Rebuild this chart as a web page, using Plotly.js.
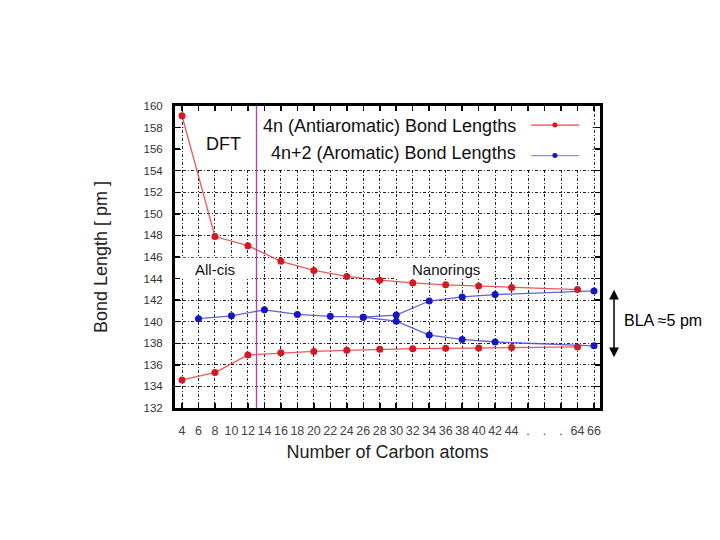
<!DOCTYPE html>
<html>
<head>
<meta charset="utf-8">
<script src="https://cdn.plot.ly/plotly-3.0.1.min.js"></script>
<style>html,body{margin:0;padding:0;background:#fff;}#chart{width:720px;height:540px;}</style>
</head>
<body>
<div id="chart"></div>
<script>
// x-axis categories (number of carbon atoms), with three gap markers
const xCategories = ['4','6','8','10','12','14','16','18','20','22','24','26','28','30','32','34','36','38','40','42','44','.','.\u200b','.\u200b\u200b','64','66'];

// 4n (antiaromatic) bond lengths: long and short bonds
const antiX = ['4','8','12','16','20','24','28','32','36','40','44','64'];
const antiLong  = [159.1, 147.9, 147.05, 145.6, 144.75, 144.2, 143.85, 143.6, 143.42, 143.3, 143.18, 142.98];
const antiShort = [134.6, 135.28, 136.92, 137.12, 137.25, 137.35, 137.44, 137.5, 137.53, 137.56, 137.6, 137.66];

// 4n+2 (aromatic) bond lengths: equalised up to 26, then splitting into long/short
const aroX1 = ['6','10','14','18','22','26','30','34','38','42','66'];
const aroY1 = [140.28, 140.55, 141.1, 140.68, 140.5, 140.42, 140.62, 141.92, 142.3, 142.52, 142.85];
const aroX2 = ['26','30','34','38','42','66'];
const aroY2 = [140.42, 140.05, 138.76, 138.36, 138.12, 137.76];

const legendLabels = ['4n (Antiaromatic) Bond Lengths', '4n+2 (Aromatic) Bond Lengths'];

const RED_M = 'rgb(214,24,34)', RED_L = 'rgba(228,60,66,0.85)';
const BLUE_M = 'rgb(22,22,196)', BLUE_L = 'rgba(70,70,205,0.85)';
const FONT = 'Liberation Sans, Arial, Helvetica, sans-serif';

function tr(x, y, lc, mc, name) {
  return {x: x, y: y, type: 'scatter', mode: 'lines+markers', name: name,
    legendgroup: name, showlegend: false,
    line: {color: lc, width: 1.3}, marker: {color: mc, size: 7}};
}

const data = [
  tr(antiX, antiLong, RED_L, RED_M, legendLabels[0]),
  tr(antiX, antiShort, RED_L, RED_M, legendLabels[0]),
  tr(aroX1, aroY1, BLUE_L, BLUE_M, legendLabels[1]),
  tr(aroX2, aroY2, BLUE_L, BLUE_M, legendLabels[1])
];

const shapes = [
  // opaque key box
  {type:'rect', xref:'x', yref:'y', x0:0.08, x1:24.92, y0:154.1, y1:160, fillcolor:'#fff', line:{width:0}, layer:'between'},
  // label boxes
  {type:'rect', xref:'x', yref:'y', x0:-0.425, x1:4.2, y0:143.97, y1:145.92, fillcolor:'#fff', line:{width:0}, layer:'between'},
  {type:'rect', xref:'x', yref:'y', x0:12.9, x1:18.95, y0:143.97, y1:145.92, fillcolor:'#fff', line:{width:0}, layer:'between'},
  // DFT divider
  {type:'line', xref:'x', yref:'paper', x0:4.52, x1:4.52, y0:0, y1:1, line:{color:'rgb(180,60,190)', width:1.3}, layer:'above'},
  // key samples
  {type:'line', xref:'paper', yref:'paper', x0:0.838, x1:0.951, y0:0.937, y1:0.937, line:{color:'rgb(235,70,70)', width:1.2}},
  {type:'circle', xref:'paper', yref:'paper', x0:0.888, x1:0.9, y0:0.929, y1:0.945, fillcolor:RED_M, line:{width:0}},
  {type:'line', xref:'paper', yref:'paper', x0:0.838, x1:0.951, y0:0.836, y1:0.836, line:{color:'rgb(140,140,225)', width:1.2}},
  {type:'circle', xref:'paper', yref:'paper', x0:0.888, x1:0.9, y0:0.828, y1:0.844, fillcolor:BLUE_M, line:{width:0}}
];

const annotations = [
  {xref:'paper', yref:'paper', x:0.8075, y:0.934, xanchor:'right', yanchor:'middle', text:legendLabels[0], showarrow:false, font:{family:FONT, size:18, color:'#111'}},
  {xref:'paper', yref:'paper', x:0.8075, y:0.843, xanchor:'right', yanchor:'middle', text:legendLabels[1], showarrow:false, font:{family:FONT, size:18, color:'#111'}},
  {xref:'x', yref:'y', x:2.5, y:156.5, text:'DFT', showarrow:false, font:{family:FONT, size:18, color:'#111'}},
  {xref:'x', yref:'y', x:2.0, y:144.8, text:'All-cis', showarrow:false, font:{family:FONT, size:15, color:'#111'}},
  {xref:'x', yref:'y', x:16.0, y:144.85, text:'Nanorings', showarrow:false, font:{family:FONT, size:15, color:'#111'}},
  {xref:'paper', yref:'paper', x:1.052, y:0.291, xanchor:'left', yanchor:'middle', text:'BLA \u22485 pm', showarrow:false, font:{family:FONT, size:16, color:'#000'}},
  {xref:'paper', yref:'paper', x:1.033, y:0.168, ax:0, ay:-69, text:'', showarrow:true, arrowhead:2, arrowside:'end+start', arrowsize:1.3, arrowwidth:1.5, arrowcolor:'#000', startarrowhead:2, startarrowsize:1.3}
];

const layout = {
  width: 720, height: 540,
  margin: {l: 175, r: 120, t: 106, b: 132},
  paper_bgcolor: '#fff', plot_bgcolor: '#fff',
  font: {family: FONT, color: '#222'},
  showlegend: false,
  xaxis: {
    type: 'category', categoryorder: 'array', categoryarray: xCategories,
    range: [-0.425, 25.364], tickmode: 'array', tickvals: xCategories,
    showline: true, linecolor: '#000', linewidth: 3, mirror: 'ticks',
    ticks: 'inside', ticklen: 5, tickwidth: 1.5, tickcolor: '#000',
    showgrid: true, gridcolor: 'rgba(0,0,0,0.85)', gridwidth: 1, griddash: '3px,2px,1px,2px',
    tickfont: {family: FONT, size: 12.5, color: '#444'}, ticklabelstandoff: 9,
    title: {text: 'Number of Carbon atoms', font: {family: FONT, size: 18, color: '#222'}, standoff: 9},
    zeroline: false, fixedrange: true
  },
  yaxis: {
    range: [132, 160], tick0: 132, dtick: 2,
    showline: true, linecolor: '#000', linewidth: 3, mirror: 'ticks',
    ticks: 'inside', ticklen: 5, tickwidth: 1.5, tickcolor: '#000',
    showgrid: true, gridcolor: 'rgba(0,0,0,0.85)', gridwidth: 1, griddash: '3px,2px,1px,2px',
    tickfont: {family: FONT, size: 11.5, color: '#333'}, ticklabelstandoff: 7,
    title: {text: 'Bond Length [ pm ]', font: {family: FONT, size: 18, color: '#222'}, standoff: 32},
    zeroline: false, fixedrange: true
  },
  shapes: shapes,
  annotations: annotations
};

Plotly.newPlot('chart', data, layout, {staticPlot: true, displayModeBar: false});
</script>
</body>
</html>
